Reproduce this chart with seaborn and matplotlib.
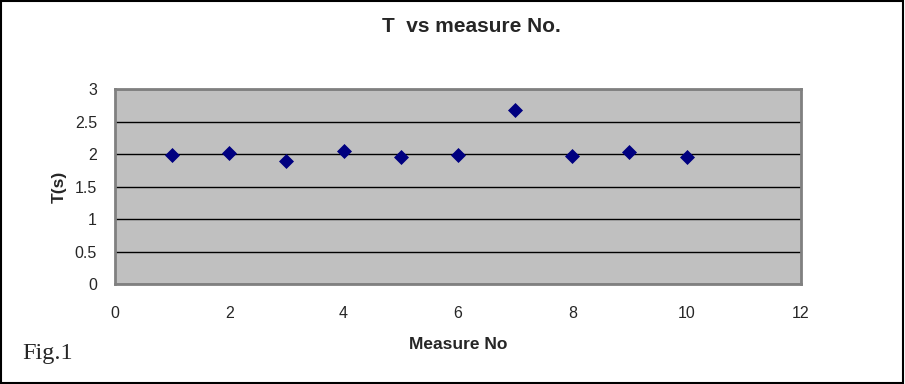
import matplotlib
matplotlib.use('Agg')
import matplotlib.pyplot as plt
import seaborn as sns
import pandas as pd
from matplotlib.patches import Rectangle

# Данные измерений
measure_no = [1, 2, 3, 4, 5, 6, 7, 8, 9, 10]
t_values = [1.99, 2.01, 1.89, 2.05, 1.96, 1.99, 2.68, 1.97, 2.03, 1.95]
x_ticks = [0, 2, 4, 6, 8, 10, 12]
y_ticks = [0, 0.5, 1, 1.5, 2, 2.5, 3]

df = pd.DataFrame({'measure': measure_no, 'T': t_values})

sns.set_style('white')
plt.rcParams['font.family'] = ['Liberation Sans', 'DejaVu Sans']

fig = plt.figure(figsize=(9.05, 3.84), dpi=100)
ax = fig.add_axes([0.127, 0.26, 0.758, 0.508])
ax.set_facecolor('#c0c0c0')

sns.scatterplot(data=df, x='measure', y='T', marker='D', s=50,
                color='#000080', edgecolor='#000080', ax=ax, zorder=3)

ax.set_xlim(0, 12)
ax.set_ylim(0, 3)
ax.set_xticks(x_ticks)
ax.set_yticks(y_ticks)
ax.set_xticklabels([str(v) for v in x_ticks])
ax.set_yticklabels(['0', '0.5', '1', '1.5', '2', '2.5', '3'])
ax.grid(axis='y', color='black', linewidth=1)
ax.grid(axis='x', visible=False)
ax.set_axisbelow(True)
ax.tick_params(axis='y', direction='out', length=5, width=1,
               color='black', labelsize=11.5, pad=8)
ax.tick_params(axis='x', direction='out', length=5, width=1,
               color='black', labelsize=11.5, pad=11)

for side in ['top', 'right', 'left', 'bottom']:
    ax.spines[side].set_color('#808080')
    ax.spines[side].set_linewidth(2)

ax.set_xlabel('Measure No', fontsize=12.5, fontweight='bold', labelpad=11)
ax.set_ylabel('T(s)', fontsize=12.5, fontweight='bold', labelpad=6)

fig.text(471 / 905, 1 - 26 / 384, 'T  vs measure No.', ha='center', va='center',
         fontsize=15, fontweight='bold')
fig.text(22 / 905, 1 - 353 / 384, 'Fig.1', ha='left', va='center',
         fontsize=17.5, family=['Liberation Serif', 'DejaVu Serif'])

# Рамка вокруг рисунка
fig.patches.append(Rectangle((0.001, 0.002), 0.997, 0.995, transform=fig.transFigure,
                             fill=False, edgecolor='black', linewidth=1.5))

fig.savefig('out.png', dpi=100)
